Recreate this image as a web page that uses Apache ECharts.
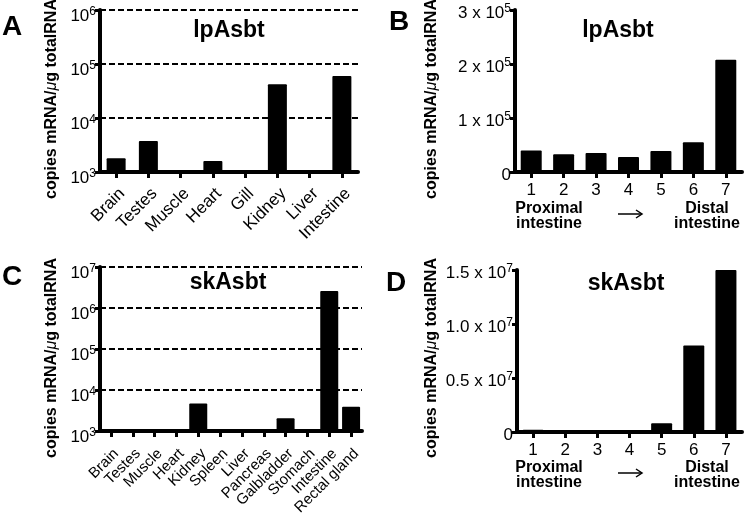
<!DOCTYPE html>
<html>
<head>
<meta charset="utf-8">
<script src="https://cdn.jsdelivr.net/npm/echarts@6/dist/echarts.min.js"></script>
<style>
html,body{margin:0;padding:0;background:#fff;}
#c{width:745px;height:520px;}
</style>
</head>
<body>
<div id="c"></div>
<script>
// ---- data ----
const tissuesA = ['Brain','Testes','Muscle','Heart','Gill','Kidney','Liver','Intestine'];
const valuesA = [1800, 3750, null, 1600, null, 42000, null, 60000];

const segmentsB = ['1','2','3','4','5','6','7'];
const valuesB = [40000, 33000, 35000, 28000, 39000, 55000, 208000];

const tissuesC = ['Brain','Testes','Muscle','Heart','Kidney','Spleen','Liver','Pancreas','Galbladder','Stomach','Intestine','Rectal gland'];
const valuesC = [null, null, null, null, 4700, null, null, null, 2050, null, 2600000, 3900];

const segmentsD = ['1','2','3','4','5','6','7'];
const valuesD = [200000, 40000, 30000, 30000, 800000, 8000000, 15000000];

const tickLabelsA = ['10{s|3}','10{s|4}','10{s|5}','10{s|6}'];
const tickLabelsB = ['0','1 x 10{s|5}','2 x 10{s|5}','3 x 10{s|5}'];
const tickLabelsC = ['10{s|3}','10{s|4}','10{s|5}','10{s|6}','10{s|7}'];
const tickLabelsD = ['0','0.5 x 10{s|7}','1.0 x 10{s|7}','1.5 x 10{s|7}'];

// ---- styling ----
const FONT = '"Liberation Sans", Arial, Helvetica, sans-serif';
const BLACK = '#000';
const yRich = {
  b: {fontSize: 17, lineHeight: 19, verticalAlign: 'bottom', color: BLACK, fontFamily: FONT},
  s: {fontSize: 12, verticalAlign: 'top', color: BLACK, fontFamily: FONT}
};
function wrapBase(t) {
  const i = t.indexOf('{s|');
  return i < 0 ? '{b|' + t + '}' : '{b|' + t.slice(0, i) + '}' + t.slice(i);
}
const axisLine = {show: true, onZero: false, lineStyle: {color: BLACK, width: 4}};
const yTick = {show: true, length: 5, lineStyle: {color: BLACK, width: 3}};
const xTick = {show: true, alignWithLabel: true, length: 6, lineStyle: {color: BLACK, width: 3}};
const dashed = {show: true, lineStyle: {color: BLACK, width: 2, type: [6, 3]}};

function logAxis(idx, min, max, labels) {
  return {
    type: 'log', logBase: 10, gridIndex: idx, min: min, max: max, startValue: min,
    axisLine: axisLine, axisTick: yTick, splitLine: dashed, minorTick: {show: false},
    axisLabel: {
      margin: 4, padding: [10, 0, 0, 0], fontSize: 17, color: BLACK, fontFamily: FONT, rich: yRich,
      formatter: v => wrapBase(labels[Math.round(Math.log10(v) - Math.log10(min))])
    }
  };
}
function linAxis(idx, max, interval, labels) {
  return {
    type: 'value', gridIndex: idx, min: 0, max: max, interval: interval,
    axisLine: axisLine, axisTick: yTick, splitLine: {show: false},
    axisLabel: {
      margin: 4, padding: [5, 0, 0, 0], fontSize: 17, color: BLACK, fontFamily: FONT, rich: yRich,
      formatter: v => wrapBase(labels[Math.round(v / interval)])
    }
  };
}
function catAxis(idx, data, label) {
  return {
    type: 'category', gridIndex: idx, data: data,
    axisLine: axisLine, axisTick: xTick,
    axisLabel: Object.assign({color: BLACK, fontFamily: FONT, interval: 0}, label)
  };
}
function bars(idx, data, w) {
  return {
    type: 'bar', xAxisIndex: idx, yAxisIndex: idx, data: data, barWidth: w,
    itemStyle: {color: BLACK, borderRadius: 1}, silent: true, animation: false
  };
}
function txt(x, y, text, size) {
  return {
    type: 'text', x: x, y: y,
    style: {text: text, fontSize: size, fontWeight: 'bold', fontFamily: FONT,
      fill: BLACK, align: 'center', verticalAlign: 'middle'}
  };
}
function yName(x, y) {
  return {
    type: 'text', x: x, y: y, rotation: Math.PI / 2,
    style: {
      text: 'copies mRNA/{i|μ}g totalRNA', fontSize: 16, fontWeight: 'bold', fontFamily: FONT,
      fill: BLACK, align: 'center', verticalAlign: 'middle',
      rich: {i: {fontSize: 16, fontStyle: 'italic', fontFamily: FONT, fill: BLACK}}
    }
  };
}
function regionText(x, y, text) {
  return {
    type: 'text', x: x, y: y,
    style: {text: text, fontSize: 16, fontWeight: 'bold', fontFamily: FONT, fill: BLACK,
      align: 'center', verticalAlign: 'middle', lineHeight: 15}
  };
}
function arrow(x, y) {
  return {
    type: 'group', x: x, y: y,
    children: [
      {type: 'line', shape: {x1: -12, y1: 0, x2: 11, y2: 0}, style: {stroke: BLACK, lineWidth: 1.5}},
      {type: 'polyline', shape: {points: [[6, -4], [12, 0], [6, 4]]}, style: {stroke: BLACK, lineWidth: 1.5, fill: null}}
    ]
  };
}

const chart = echarts.init(document.getElementById('c'), null, {renderer: 'canvas'});
chart.setOption({
  animation: false,
  backgroundColor: '#fff',
  textStyle: {fontFamily: FONT, color: BLACK},
  grid: [
    {left: 100, top: 10, width: 258, height: 162},
    {left: 515, top: 10, width: 227, height: 162},
    {left: 100, top: 267, width: 262, height: 164},
    {left: 517, top: 270, width: 225, height: 162}
  ],
  xAxis: [
    catAxis(0, tissuesA, {fontSize: 17, rotate: 45, align: 'right', verticalAlign: 'top', margin: 13}),
    catAxis(1, segmentsB, {fontSize: 17, margin: 10}),
    catAxis(2, tissuesC, {fontSize: 15, rotate: 45, align: 'right', verticalAlign: 'top', margin: 15}),
    catAxis(3, segmentsD, {fontSize: 17, margin: 10})
  ],
  yAxis: [
    logAxis(0, 1000, 1000000, tickLabelsA),
    linAxis(1, 300000, 100000, tickLabelsB),
    logAxis(2, 1000, 10000000, tickLabelsC),
    linAxis(3, 15000000, 5000000, tickLabelsD)
  ],
  series: [
    bars(0, valuesA, 19),
    bars(1, valuesB, 21),
    bars(2, valuesC, 18),
    bars(3, valuesD, 21)
  ],
  graphic: [
    txt(12, 27, 'A', 28), txt(399, 22, 'B', 28), txt(12, 277, 'C', 28), txt(396, 283, 'D', 28),
    txt(229, 31, 'lpAsbt', 23), txt(618, 31, 'lpAsbt', 23),
    txt(228, 283, 'skAsbt', 23), txt(626, 284, 'skAsbt', 23),
    yName(52, 99), yName(432, 99), yName(52, 358), yName(432, 358),
    regionText(549, 216, 'Proximal\nintestine'), regionText(707, 216, 'Distal\nintestine'),
    regionText(549, 475, 'Proximal\nintestine'), regionText(707, 475, 'Distal\nintestine'),
    arrow(630, 214), arrow(630, 473)
  ]
});
</script>
</body>
</html>
